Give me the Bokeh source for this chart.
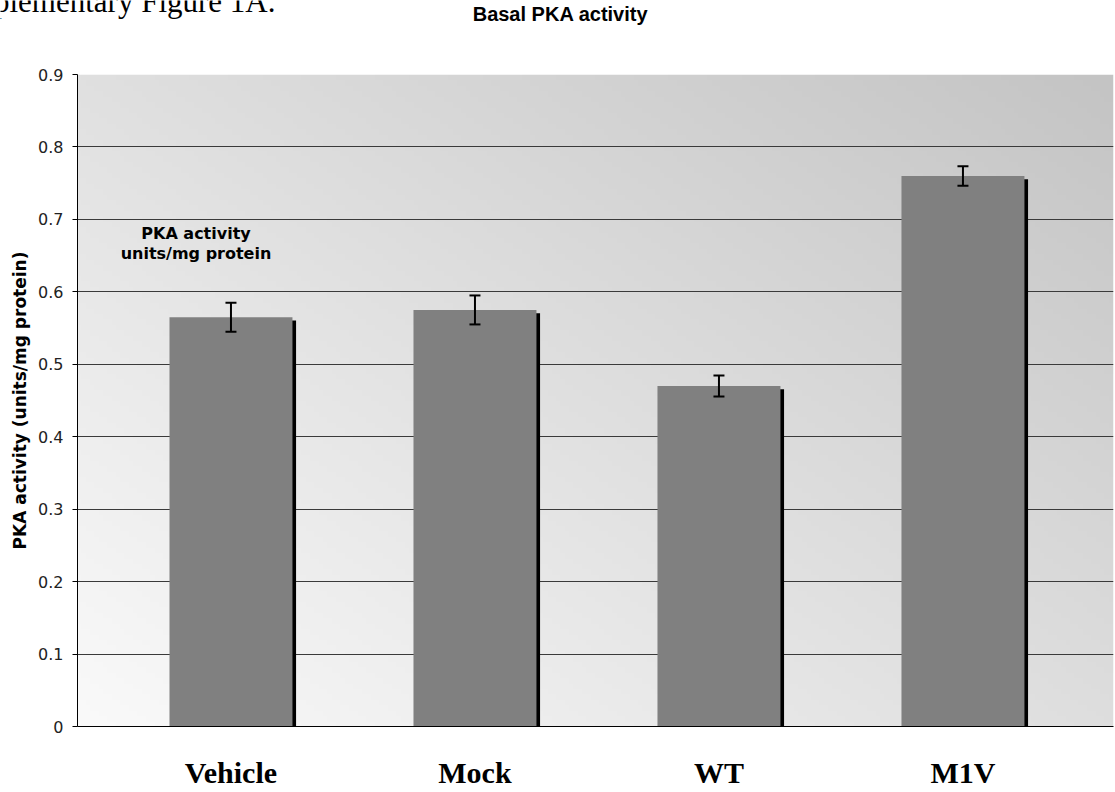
import numpy as np
from bokeh.plotting import figure
from bokeh.layouts import column
from bokeh.models import (ColumnDataSource, Range1d, FixedTicker, Whisker, TeeHead, Label)
from bokeh.transform import dodge
from bokeh.embed import file_html
from bokeh.resources import INLINE

# ---- data ----
categories = ["Vehicle", "Mock", "WT", "M1V"]
values = [0.565, 0.575, 0.47, 0.76]
errors = [0.02, 0.02, 0.0145, 0.0135]
y_ticks = [0, 0.1, 0.2, 0.3, 0.4, 0.5, 0.6, 0.7, 0.8, 0.9]
y_tick_labels = ["0", "0.1", "0.2", "0.3", "0.4", "0.5", "0.6", "0.7", "0.8", "0.9"]
title_text = "Basal PKA activity"
page_caption = "Supplementary Figure 1A."
y_label = "PKA activity (units/mg protein)"
note_lines = ["PKA activity", "units/mg protein"]

# ---- layout/style constants ----
W = 1115
HEADER_H = 60
MAIN_H = 792 - HEADER_H
X_START, X_END = -0.629, 3.617
Y_START, Y_END = 0, 0.9
BAR_W = 0.504
SHADOW_DX = 0.0148
SHADOW_DY = 0.0046

xs = list(range(len(categories)))
src = ColumnDataSource(dict(
    x=xs,
    top=values,
    shadow_top=[v - SHADOW_DY for v in values],
    upper=[v + e for v, e in zip(values, errors)],
    lower=[v - e for v, e in zip(values, errors)],
    zero=[0] * len(values),
))

# ---------- header (page caption + chart title) ----------
h = figure(width=W, height=HEADER_H, x_range=Range1d(0, W), y_range=Range1d(0, HEADER_H),
           output_backend="svg", toolbar_location=None,
           x_axis_location=None, y_axis_location=None, min_border=0)
h.outline_line_color = None
h.grid.visible = False
h.add_layout(Label(x=560, y=HEADER_H - 13, x_units="screen", y_units="screen", text=title_text,
                   text_align="center", text_baseline="alphabetic",
                   text_font="Liberation Sans", text_font_style="bold",
                   text_font_size="20px", text_color="black"))
h.add_layout(Label(x=275, y=HEADER_H - 1, x_units="screen", y_units="screen", text=page_caption,
                   text_align="right", text_baseline="alphabetic",
                   text_font="Liberation Serif", text_font_size="31px", text_color="black"))

# ---------- main chart ----------
p = figure(width=W, height=MAIN_H,
           x_range=Range1d(X_START, X_END), y_range=Range1d(Y_START, Y_END),
           output_backend="svg", toolbar_location=None,
           min_border_left=77, min_border_right=2,
           min_border_top=74 - HEADER_H, min_border_bottom=66)
p.outline_line_color = None
p.background_fill_color = "white"
p.border_fill_color = "white"

# keep the header's frame independent of the chart's frame
for fig in (h, p):
    if "frame_align" in fig.properties():
        fig.frame_align = False

# gradient background (style only)
ny, nx = 120, 240
gx, gy = np.meshgrid(np.linspace(0, 1, nx), np.linspace(0, 1, ny))
gv = np.clip(250 - 28 * gx - 26 * gy, 0, 255).astype(np.uint8)
img = np.empty((ny, nx), dtype=np.uint32)
view = img.view(dtype=np.uint8).reshape((ny, nx, 4))
view[..., 0] = gv
view[..., 1] = gv
view[..., 2] = gv
view[..., 3] = 255
p.image_rgba(image=[img], x=X_START, y=Y_START, dw=X_END - X_START, dh=Y_END - Y_START,
             level="image")

# bars with shadow
p.vbar(x=dodge("x", SHADOW_DX), top="shadow_top", bottom="zero", width=BAR_W,
       source=src, fill_color="black", line_color=None)
p.vbar(x="x", top="top", bottom="zero", width=BAR_W, source=src,
       fill_color="#808080", line_color=None)

# error bars
w = Whisker(base="x", upper="upper", lower="lower", source=src, level="annotation",
            line_color="black", line_width=2,
            upper_head=TeeHead(size=11, line_color="black", line_width=2),
            lower_head=TeeHead(size=11, line_color="black", line_width=2))
p.add_layout(w)

# y axis
p.xgrid.visible = False
p.yaxis.ticker = FixedTicker(ticks=y_ticks)
p.ygrid.grid_line_color = "#3a3a3a"
p.ygrid.grid_line_width = 1
p.yaxis.major_label_overrides = dict(zip(y_ticks, y_tick_labels))
p.yaxis.major_label_text_font = "DejaVu Sans"
p.yaxis.major_label_text_font_size = "16px"
p.yaxis.major_label_text_color = "#222222"
p.yaxis.major_label_standoff = 9
p.yaxis.major_tick_in = 0
p.yaxis.major_tick_out = 5
p.yaxis.minor_tick_line_color = None
p.yaxis.axis_line_color = "black"
p.yaxis.major_tick_line_color = "black"
p.yaxis.axis_label = y_label
p.yaxis.axis_label_text_font = "DejaVu Sans"
p.yaxis.axis_label_text_font_style = "bold"
p.yaxis.axis_label_text_font_size = "17px"
p.yaxis.axis_label_text_color = "black"
p.yaxis.axis_label_standoff = 5

# x axis with category labels
p.xaxis.ticker = FixedTicker(ticks=xs)
p.xaxis.major_label_overrides = dict(zip(xs, categories))
p.xaxis.axis_line_color = "black"
p.xaxis.major_tick_line_color = None
p.xaxis.major_tick_in = 0
p.xaxis.major_tick_out = 0
p.xaxis.minor_tick_line_color = None
p.xaxis.major_label_standoff = 29
p.xaxis.major_label_text_font = "Liberation Serif"
p.xaxis.major_label_text_font_style = "bold"
p.xaxis.major_label_text_font_size = "30px"
p.xaxis.major_label_text_color = "black"

# note inside the plot
for i, line in enumerate(note_lines):
    p.add_layout(Label(x=118.5, y=493 - 20 * i, x_units="screen", y_units="screen",
                       text=line, text_align="center", text_baseline="alphabetic",
                       text_font="DejaVu Sans", text_font_style="bold",
                       text_font_size="16px", text_color="black"))

layout = column(h, p, spacing=0)
open("out.html", "w").write(file_html(layout, INLINE))
